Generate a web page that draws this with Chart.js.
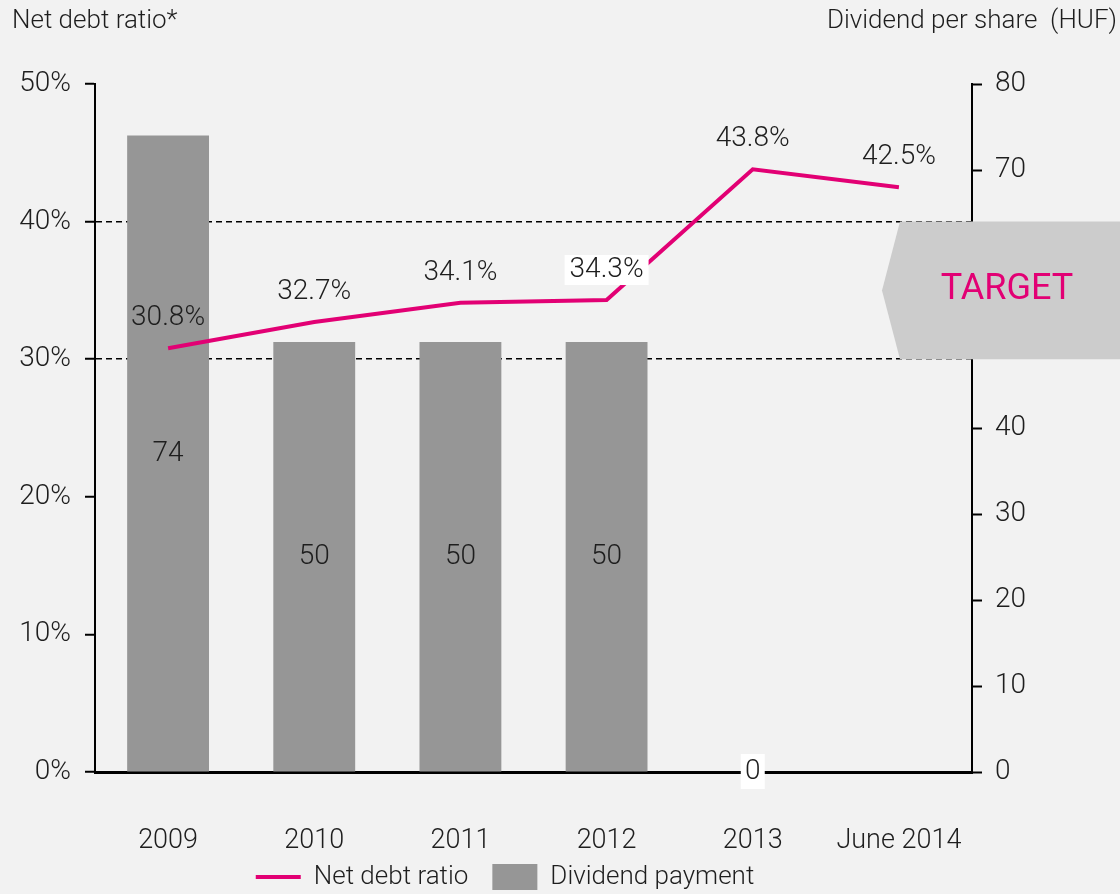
<!DOCTYPE html>
<html>
<head>
<meta charset="utf-8">
<script src="https://cdn.jsdelivr.net/npm/chart.js@4/dist/chart.umd.min.js"></script>
<style>
  html, body { margin: 0; padding: 0; background: #f2f2f2; }
  canvas { display: block; }
</style>
</head>
<body>
<canvas id="chart" width="1120" height="894"></canvas>
<script>
// --- data ---
const categories = ['2009', '2010', '2011', '2012', '2013', 'June 2014'];
const netDebtRatio = [30.8, 32.7, 34.1, 34.3, 43.8, 42.5];      // % (left axis)
const dividendPerShare = [74, 50, 50, 50, 0, null];              // HUF (right axis)
const ratioTicks = [0, 10, 20, 30, 40, 50];
const dividendTicks = [0, 10, 20, 30, 40, 50, 60, 70, 80];
const targetBand = [30, 40];                                     // target range, %
const boxedRatioLabels = [false, false, false, true, false, false];

const MAGENTA = '#e20074';
const BAR_GREY = '#969696';
const TARGET_GREY = '#cccccc';
const TEXT = '#1e1e1e';
const FONT = 'Roboto, "Liberation Sans", sans-serif';

/**
 * Titles, value labels and the TARGET marker
 */
const decorations = {
    id: 'decorations',
    afterLayout(chart) {
        // legend sits a bit left of centre and close to the axis labels
        const lg = chart.legend;
        lg.left -= 55; lg.right -= 55;
        lg.top -= 14; lg.bottom -= 14;
    },
    beforeDraw(chart) {
        const ctx = chart.ctx;
        ctx.save();
        ctx.fillStyle = '#f2f2f2';
        ctx.fillRect(0, 0, chart.width, chart.height);
        ctx.restore();
    },
    afterDatasetsDraw(chart) {
        const ctx = chart.ctx;
        ctx.save();
        ctx.font = `300 28px ${FONT}`;
        ctx.textAlign = 'center';
        ctx.textBaseline = 'middle';

        // dividend labels, centred in the bars
        chart.getDatasetMeta(1).data.forEach((bar, i) => {
            const v = dividendPerShare[i];
            if (v === null) return;
            const y = (bar.y + bar.base) / 2;
            if (v === 0) {
                ctx.fillStyle = '#ffffff';
                ctx.fillRect(bar.x - 12, y - 18, 24, 35);
            }
            ctx.fillStyle = TEXT;
            ctx.fillText(String(v), bar.x, y);
        });

        // net debt ratio labels above the points
        chart.getDatasetMeta(0).data.forEach((pt, i) => {
            const text = netDebtRatio[i].toFixed(1) + '%';
            const y = pt.y - 30;
            if (boxedRatioLabels[i]) {
                const w = ctx.measureText(text).width + 10;
                ctx.fillStyle = '#ffffff';
                ctx.fillRect(pt.x - w / 2, y - 15, w, 30);
            }
            ctx.fillStyle = TEXT;
            ctx.fillText(text, pt.x, y);
        });
        ctx.restore();
    },
    afterDraw(chart) {
        const ctx = chart.ctx;
        const y = chart.scales.y;
        const area = chart.chartArea;
        const top = y.getPixelForValue(targetBand[1]);
        const bottom = y.getPixelForValue(targetBand[0]);
        const tip = area.right - 90;
        const shoulder = area.right - 72;

        ctx.save();
        ctx.fillStyle = TARGET_GREY;
        ctx.beginPath();
        ctx.moveTo(chart.width, top);
        ctx.lineTo(shoulder, top);
        ctx.lineTo(tip, (top + bottom) / 2);
        ctx.lineTo(shoulder, bottom);
        ctx.lineTo(chart.width, bottom);
        ctx.closePath();
        ctx.fill();

        ctx.fillStyle = MAGENTA;
        ctx.font = `36px ${FONT}`;
        ctx.textAlign = 'center';
        ctx.textBaseline = 'middle';
        ctx.fillText('TARGET', (shoulder + chart.width) / 2 - 3, (top + bottom) / 2);

        // axis titles
        ctx.fillStyle = TEXT;
        ctx.font = `300 26px ${FONT}`;
        ctx.textAlign = 'left';
        ctx.fillText('Net debt ratio*', 12, 21);
        ctx.textAlign = 'right';
        ctx.fillText('Dividend per share  (HUF)', 1117, 21);
        ctx.restore();
    }
};

const ctx = document.getElementById('chart').getContext('2d');

new Chart(ctx, {
    data: {
        labels: categories,
        datasets: [{
            type: 'line',
            label: 'Net debt ratio',
            data: netDebtRatio,
            yAxisID: 'y',
            borderColor: MAGENTA,
            backgroundColor: MAGENTA,
            borderWidth: 4,
            tension: 0,
            pointRadius: 0,
            order: 0
        }, {
            type: 'bar',
            label: 'Dividend payment',
            data: dividendPerShare,
            yAxisID: 'y1',
            backgroundColor: BAR_GREY,
            borderWidth: 0,
            categoryPercentage: 1,
            barPercentage: 0.56,
            order: 1
        }]
    },
    options: {
        responsive: false,
        animation: false,
        devicePixelRatio: 1,
        layout: {
            padding: { top: 84, left: 0, right: 0, bottom: -20 }
        },
        plugins: {
            tooltip: { enabled: false },
            legend: {
                position: 'bottom',
                labels: {
                    usePointStyle: true,
                    pointStyleWidth: 45,
                    boxHeight: 34,
                    padding: 24,
                    color: TEXT,
                    font: { family: FONT, size: 26, weight: '300' },
                    generateLabels: () => [{
                        text: 'Net debt ratio',
                        pointStyle: 'line',
                        strokeStyle: MAGENTA,
                        fillStyle: MAGENTA,
                        lineWidth: 4,
                        fontColor: TEXT,
                        datasetIndex: 0
                    }, {
                        text: 'Dividend payment',
                        pointStyle: 'rect',
                        strokeStyle: BAR_GREY,
                        fillStyle: BAR_GREY,
                        lineWidth: 0,
                        fontColor: TEXT,
                        datasetIndex: 1
                    }]
                }
            }
        },
        scales: {
            x: {
                offset: true,
                grid: { display: false },
                border: { display: true, color: '#000000', width: 3 },
                ticks: {
                    color: TEXT,
                    padding: 45,
                    font: { family: FONT, size: 27, weight: '300' }
                },
                afterFit: scale => { scale.height = 82; }
            },
            y: {
                position: 'left',
                min: 0,
                max: 50,
                afterBuildTicks: scale => { scale.ticks = ratioTicks.map(v => ({ value: v })); },
                grid: {
                    drawOnChartArea: true,
                    color: c => (c.tick && (c.tick.value === 30 || c.tick.value === 40)) ? '#000000' : 'rgba(0,0,0,0)',
                    lineWidth: 1.5,
                    tickColor: '#000000',
                    tickWidth: 2,
                    tickLength: 10
                },
                border: { display: true, color: '#000000', width: 2, dash: [6, 4] },
                ticks: {
                    color: TEXT,
                    padding: 14,
                    font: { family: FONT, size: 28, weight: '300' },
                    callback: v => v + '%'
                },
                afterFit: scale => { scale.width = 95; }
            },
            y1: {
                position: 'right',
                min: 0,
                max: 80,
                afterBuildTicks: scale => { scale.ticks = dividendTicks.map(v => ({ value: v })); },
                grid: {
                    drawOnChartArea: false,
                    tickColor: '#000000',
                    tickWidth: 2,
                    tickLength: 10
                },
                border: { display: true, color: '#000000', width: 2 },
                ticks: {
                    color: TEXT,
                    padding: 13,
                    font: { family: FONT, size: 28, weight: '300' }
                },
                afterFit: scale => { scale.width = 148; }
            }
        }
    },
    plugins: [decorations]
});
</script>
</body>
</html>
